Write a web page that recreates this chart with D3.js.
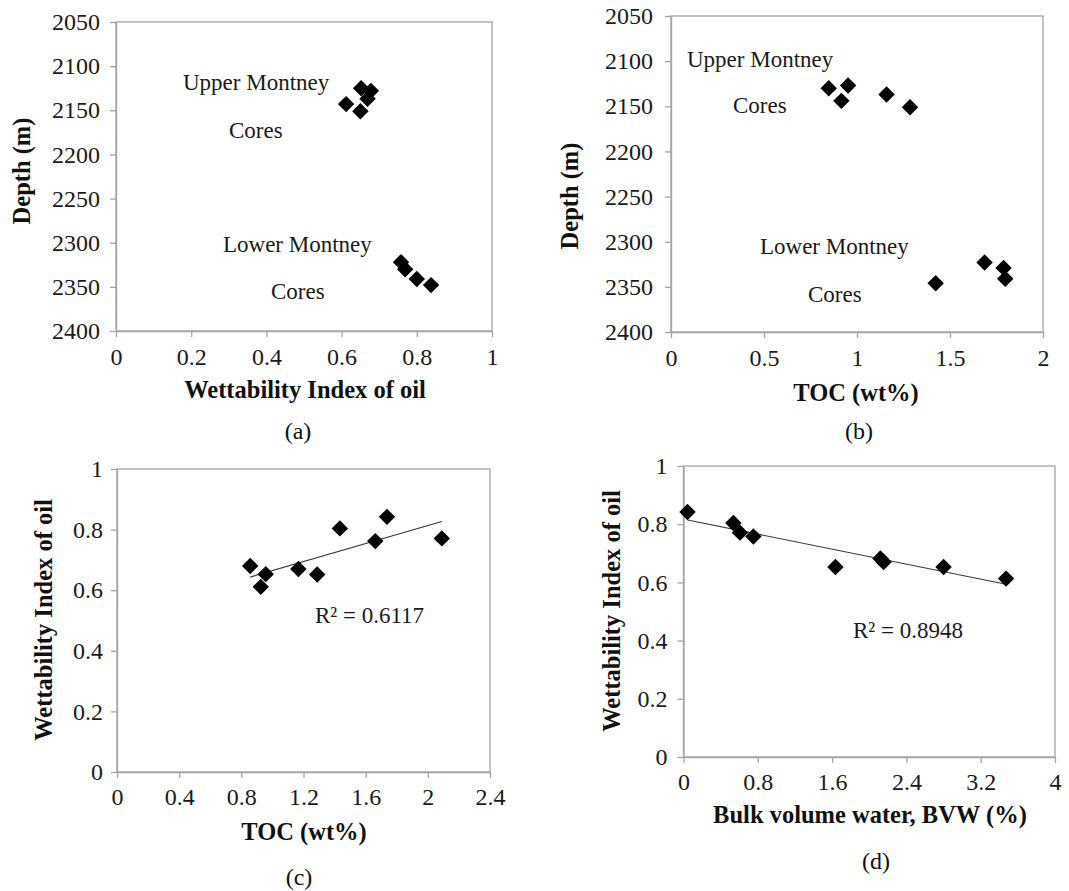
<!DOCTYPE html>
<html>
<head>
<meta charset="utf-8">
<script src="https://cdn.jsdelivr.net/npm/d3@7"></script>
<style>
  html, body { margin: 0; padding: 0; background: #fff; }
  svg { display: block; }
  svg text { font-family: "Liberation Serif", "Times New Roman", "DejaVu Serif", serif; }
</style>
</head>
<body>
<svg id="fig" width="1069" height="891"></svg>
<script>
// ---- data ----
// (a) wettability index of oil vs depth
const wiA    = [0.612, 0.652, 0.678, 0.669, 0.650, 0.758, 0.769, 0.800, 0.838];
const depthA = [2143, 2125, 2128, 2137, 2151, 2322, 2330, 2341, 2348];
// (b) TOC vs depth
const tocB   = [0.848, 0.952, 0.916, 1.159, 1.285, 1.686, 1.788, 1.797, 1.423];
const depthB = [2130, 2127, 2144, 2137, 2151, 2323, 2329, 2341, 2346];
// (c) wettability index of oil vs TOC
const tocC   = [0.857, 0.925, 0.957, 1.167, 1.288, 1.434, 1.662, 1.737, 2.090];
const wiC    = [0.680, 0.611, 0.653, 0.670, 0.652, 0.804, 0.762, 0.842, 0.771];
// (d) wettability index of oil vs bulk volume water
const bvwD   = [0.043, 0.537, 0.608, 0.752, 1.636, 2.120, 2.155, 2.800, 3.473];
const wiD    = [0.842, 0.804, 0.771, 0.758, 0.653, 0.682, 0.670, 0.653, 0.613];

// tick values
const xTicksA = [0, 0.2, 0.4, 0.6, 0.8, 1];
const xTicksB = [0, 0.5, 1, 1.5, 2];
const xTicksC = [0, 0.4, 0.8, 1.2, 1.6, 2, 2.4];
const xTicksD = [0, 0.8, 1.6, 2.4, 3.2, 4];
const depthTicks = [2050, 2100, 2150, 2200, 2250, 2300, 2350, 2400];
const wiTicks = [0, 0.2, 0.4, 0.6, 0.8, 1];

// R² labels
const r2C = "0.6117";
const r2D = "0.8948";

const SERIF = '"Liberation Serif", "Times New Roman", "DejaVu Serif", serif';
const svg = d3.select("#fig");
const AXIS = "#a3a3a3";

function linfit(xs, ys) {
  const mx = d3.mean(xs), my = d3.mean(ys);
  let sxy = 0, sxx = 0;
  xs.forEach((x, i) => { sxy += (x - mx) * (ys[i] - my); sxx += (x - mx) * (x - mx); });
  const b = sxy / sxx;
  return { slope: b, intercept: my - b * mx };
}

function panel(cfg) {
  const g = svg.append("g");
  const x = d3.scaleLinear().domain(cfg.xDomain).range([cfg.left, cfg.right]);
  const y = d3.scaleLinear().domain(cfg.yDomain).range(cfg.yRange);

  // plot-area frame
  g.append("rect")
    .attr("x", cfg.left).attr("y", cfg.top)
    .attr("width", cfg.right - cfg.left).attr("height", cfg.bottom - cfg.top)
    .attr("fill", "none").attr("stroke", AXIS).attr("stroke-width", 1.3);

  const fmt = d => String(d);
  const xa = g.append("g").attr("transform", `translate(0,${cfg.bottom})`)
    .call(d3.axisBottom(x).tickValues(cfg.xTicks).tickFormat(fmt).tickSize(6).tickSizeOuter(0).tickPadding(cfg.xPad));
  const ya = g.append("g").attr("transform", `translate(${cfg.left},0)`)
    .call(d3.axisLeft(y).tickValues(cfg.yTicks).tickFormat(fmt).tickSize(6).tickSizeOuter(0).tickPadding(cfg.yPad));
  [xa, ya].forEach(a => {
    a.attr("font-family", SERIF).attr("font-size", 24);
    a.select(".domain").attr("stroke", AXIS).attr("stroke-width", 1.3);
    a.selectAll(".tick line").attr("stroke", AXIS).attr("stroke-width", 1.3);
    a.selectAll(".tick text").style("font-family", SERIF).style("font-size", "24px").attr("fill", "#1a1a1a");
  });

  // regression line
  if (cfg.fit) {
    const f = linfit(cfg.xs, cfg.ys);
    const [x0, x1] = d3.extent(cfg.xs);
    g.append("line")
      .attr("x1", x(x0)).attr("y1", y(f.intercept + f.slope * x0))
      .attr("x2", x(x1)).attr("y2", y(f.intercept + f.slope * x1))
      .attr("stroke", "#3a3a3a").attr("stroke-width", 1.2);
  }

  // diamond markers
  const sym = d3.symbol().type(d3.symbolSquare).size(135);
  g.selectAll("path.pt").data(cfg.xs.map((v, i) => [v, cfg.ys[i]]))
    .join("path").attr("class", "pt")
    .attr("d", sym)
    .attr("transform", d => `translate(${x(d[0])},${y(d[1])}) rotate(45)`)
    .attr("fill", "#000");

  // in-plot annotations
  (cfg.notes || []).forEach(n => {
    g.append("text").attr("x", n[1]).attr("y", n[2])
      .style("font-size", (n[3] || 23) + "px").attr("fill", "#1a1a1a").text(n[0]);
  });

  // axis titles
  g.append("text")
    .attr("x", cfg.xTitlePos[0]).attr("y", cfg.xTitlePos[1])
    .attr("text-anchor", "middle").style("font-size", "24.5px").style("font-weight", "bold")
    .attr("fill", "#111").text(cfg.xTitle);
  g.append("text")
    .attr("transform", `translate(${cfg.yTitlePos[0]},${cfg.yTitlePos[1]}) rotate(-90)`)
    .attr("text-anchor", "middle").style("font-size", "24.5px").style("font-weight", "bold")
    .attr("fill", "#111").text(cfg.yTitle);

  // panel caption
  g.append("text")
    .attr("x", cfg.capPos[0]).attr("y", cfg.capPos[1])
    .attr("text-anchor", "middle").style("font-size", "24px").attr("fill", "#111")
    .text(cfg.caption);
}

panel({
  left: 116, right: 492, top: 22, bottom: 331,
  xDomain: [0, 1], yDomain: [2050, 2400], yRange: [22, 331],
  xTicks: xTicksA, yTicks: depthTicks, xPad: 11, yPad: 10,
  xs: wiA, ys: depthA,
  notes: [["Upper Montney", 183, 90], ["Cores", 229, 138], ["Lower Montney", 223, 252], ["Cores", 271, 299]],
  xTitle: "Wettability Index of oil", xTitlePos: [305, 398],
  yTitle: "Depth (m)", yTitlePos: [30, 171],
  caption: "(a)", capPos: [298, 439]
});

panel({
  left: 671, right: 1043, top: 16, bottom: 332,
  xDomain: [0, 2], yDomain: [2050, 2400], yRange: [16, 332],
  xTicks: xTicksB, yTicks: depthTicks, xPad: 11, yPad: 12,
  xs: tocB, ys: depthB,
  notes: [["Upper Montney", 687, 67], ["Cores", 733, 113], ["Lower Montney", 760, 254], ["Cores", 808, 302]],
  xTitle: "TOC (wt%)", xTitlePos: [856, 401],
  yTitle: "Depth (m)", yTitlePos: [578, 196],
  caption: "(b)", capPos: [859, 439]
});

panel({
  left: 117, right: 490, top: 469, bottom: 772,
  xDomain: [0, 2.4], yDomain: [0, 1], yRange: [772, 469],
  xTicks: xTicksC, yTicks: wiTicks, xPad: 10, yPad: 8,
  xs: tocC, ys: wiC, fit: true,
  notes: [["R\u00B2 = " + r2C, 315, 623, 23]],
  xTitle: "TOC (wt%)", xTitlePos: [304, 840],
  yTitle: "Wettability Index of oil", yTitlePos: [52, 620],
  caption: "(c)", capPos: [299, 885]
});

panel({
  left: 683.5, right: 1055, top: 466, bottom: 757,
  xDomain: [0, 4], yDomain: [0, 1], yRange: [757, 466],
  xTicks: xTicksD, yTicks: wiTicks, xPad: 10, yPad: 10,
  xs: bvwD, ys: wiD, fit: true,
  notes: [["R\u00B2 = " + r2D, 853, 638, 23]],
  xTitle: "Bulk volume water, BVW (%)", xTitlePos: [870, 823],
  yTitle: "Wettability Index of oil", yTitlePos: [620, 611],
  caption: "(d)", capPos: [876, 869]
});
</script>
</body>
</html>
